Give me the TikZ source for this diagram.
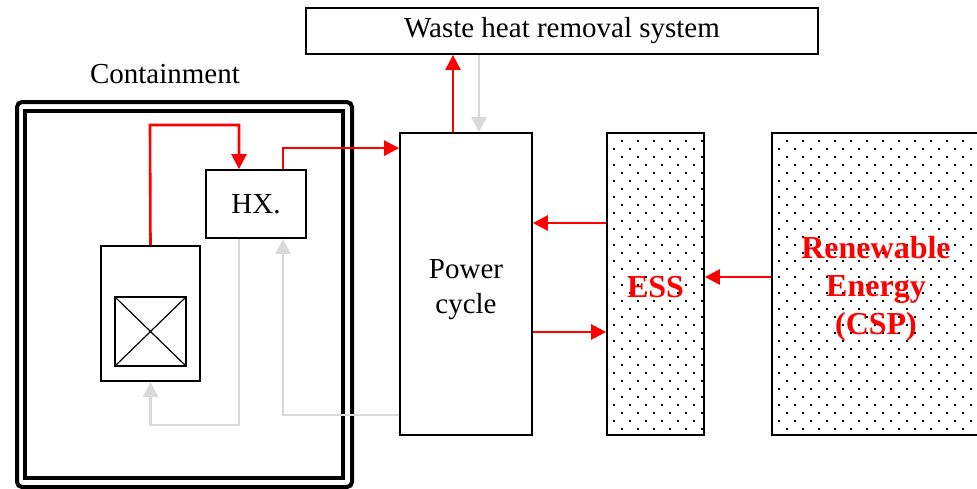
\documentclass[tikz,border=0pt]{standalone}
\usepackage{fontspec}
\setmainfont{Liberation Serif}
\usetikzlibrary{arrows.meta}
% dots in staggered rows, clipped to the node #1
\newcommand\sprinkle[3]{%
  \begin{scope}
    \clip (#1.south west) rectangle (#1.north east);
    \foreach \r in {0,...,38} {
      \pgfmathsetmacro\yy{141+8*\r}
      \pgfmathsetmacro\xo{8*(1-mod(\r,2))}
      \foreach \c in {0,...,#3}
        \fill (#2+\xo+16*\c-0.9,\yy-0.9) rectangle ++(1.8,1.8);
    }
  \end{scope}}
\begin{document}
\begin{tikzpicture}[x=1pt,y=-1pt,line cap=butt,line join=miter,
  every node/.style={font=\fontsize{29}{35}\selectfont},
  box/.style={draw,line width=1.8pt,rectangle,inner sep=0pt},
  hot/.style={draw=red,line width=2.6pt,-{Triangle[length=15pt,width=15pt]}},
  cold/.style={draw=black!15,line width=2.2pt,-{Triangle[length=15pt,width=15pt]}},
  redlabel/.style={text=red,font=\fontsize{32}{38}\selectfont\bfseries,align=center}]
  \useasboundingbox (0,0) rectangle (977,488);
  % containment
  \draw[line width=4pt,rounded corners=5pt] (17,102) rectangle (352,487);
  \draw[line width=4pt] (25,111) rectangle (343,478);
  \node (cont) at (165,74) {Containment};
  % boxes
  \node[box,minimum width=512pt,minimum height=46pt] (waste) at (562,31) {Waste heat removal system};
  \node[box,minimum width=132pt,minimum height=302pt] (pc) at (466,284) {};
  \node[align=center] at (466,290) {Power\\cycle};
  \node[box,minimum width=97pt,minimum height=302pt] (ess) at (655.5,284) {};
  \sprinkle{ess}{614}{6}
  \node[redlabel] at (655.5,287) {ESS};
  \node[box,minimum width=208pt,minimum height=302pt] (ren) at (876,284) {};
  \sprinkle{ren}{779}{13}
  \node[redlabel] at (876,289) {Renewable\\Energy\\(CSP)};
  \node[box,minimum width=100pt,minimum height=68pt] (hx) at (256,204) {HX.};
  \node[box,minimum width=99pt,minimum height=135pt] (reactor) at (150.5,313.5) {};
  \node[draw,line width=1.2pt,minimum width=71pt,minimum height=69pt,inner sep=0pt] (core) at (150.5,331.5) {};
  \draw[line width=1.2pt] (core.north west) -- (core.south east) (core.north east) -- (core.south west);
  % loops
  \draw[hot] (reactor.north) -- (150,125) -| ([xshift=-17pt]hx.north);
  \draw[hot] ([xshift=27pt]hx.north) |- ([yshift=-16pt]pc.north west);
  \draw[cold] ([xshift=-17pt]hx.south) -- (239,425) -| (reactor.south);
  \draw[cold] ([yshift=21pt]pc.south west) -| ([xshift=27pt]hx.south);
  \draw[hot] ([xshift=-13pt]pc.north) -- ([xshift=-13pt]pc.north |- waste.south);
  \draw[cold] ([xshift=13pt]pc.north |- waste.south) -- ([xshift=13pt]pc.north);
  \draw[hot] ([yshift=61pt]ess.west) -- ([yshift=61pt]pc.east);
  \draw[hot] ([yshift=-48pt]pc.east) -- ([yshift=-48pt]ess.west);
  \draw[hot] ([yshift=7pt]ren.west) -- ([yshift=7pt]ess.east);
\end{tikzpicture}
\end{document}
